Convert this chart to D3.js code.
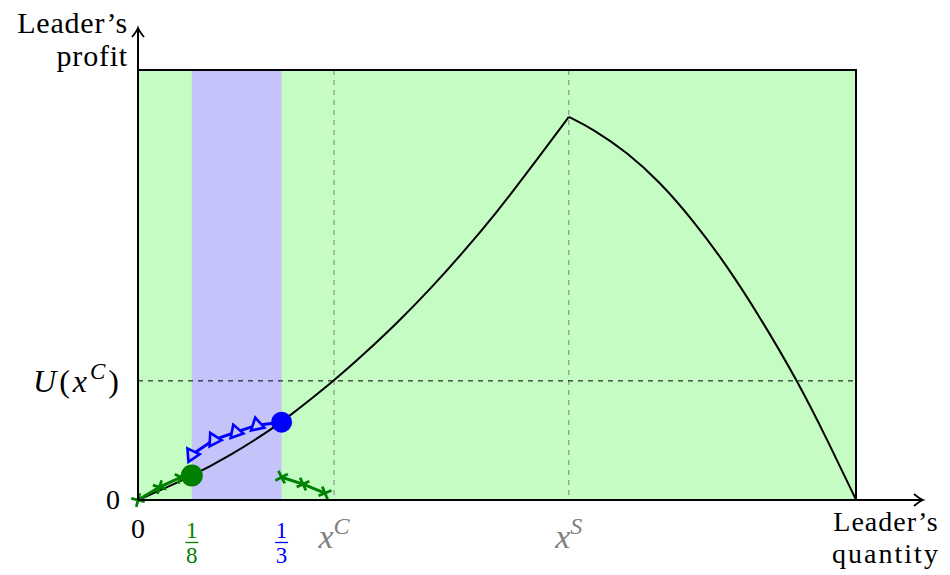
<!DOCTYPE html>
<html lang="en">
  <head>
    <meta charset="UTF-8" />
    <title>Leader's profit</title>
    <script src="https://d3js.org/d3.v7.min.js"></script>
    <style>
      body {
        margin: 0;
        background: #ffffff;
      }
      svg {
        display: block;
      }
      text {
        font-family: "Liberation Serif", "DejaVu Serif", serif;
      }
    </style>
  </head>
  <body>
    <div id="chart"></div>
    <script>
      // profit curve, left branch (up to x^S) and right branch
      const leftX = [0, 0.125, 0.2135, 0.306, 0.3333, 0.455, 0.522, 0.601, 0.677, 0.754, 0.833, 0.91, 1.0];
      const leftY = [0, 0.055, 0.103, 0.162, 0.181, 0.277, 0.337, 0.411, 0.489, 0.575, 0.669, 0.77, 0.891];
      const rightX = [1.0, 1.056, 1.135, 1.212, 1.288, 1.367, 1.444, 1.532, 1.599, 1.667];
      const rightY = [0.891, 0.863, 0.809, 0.739, 0.651, 0.545, 0.425, 0.275, 0.142, 0];

      // green path (crosses) and green dot
      const greenLeftX = [0, 0.05, 0.1];
      const greenLeftY = [0, 0.03, 0.053];
      const greenDot = [0.125, 0.057];
      const greenRightX = [0.3333, 0.383, 0.434];
      const greenRightY = [0.053, 0.037, 0.016];

      // blue path (triangles) and blue dot
      const blueX = [0.125, 0.176, 0.227, 0.276];
      const blueY = [0.105, 0.14, 0.158, 0.174];
      const blueDot = [0.3333, 0.181];

      // guides
      const xC = 0.455;
      const xS = 1.0;
      const uC = 0.277;
      const band = [1 / 8, 1 / 3];
      const xMax = 5 / 3;
      const yMax = 1;

      const W = 950, H = 575;
      const x = d3.scaleLinear().domain([0, xMax]).range([138, 856]);
      const y = d3.scaleLinear().domain([0, yMax]).range([500, 70]);

      const GREEN = "#008000";
      const BLUE = "#0000ff";
      const GRAY = "#808080";

      const svg = d3.select("#chart").append("svg").attr("width", W).attr("height", H);

      // background regions
      svg.append("rect")
        .attr("x", x(0)).attr("y", y(yMax))
        .attr("width", x(xMax) - x(0)).attr("height", y(0) - y(yMax))
        .attr("fill", "#c4fcc4");
      svg.append("rect")
        .attr("x", x(band[0])).attr("y", y(yMax))
        .attr("width", x(band[1]) - x(band[0])).attr("height", y(0) - y(yMax))
        .attr("fill", "#c4c4fb");

      // dashed guides
      [xC, xS].forEach((v) => {
        svg.append("line")
          .attr("x1", x(v)).attr("x2", x(v))
          .attr("y1", y(yMax)).attr("y2", y(0))
          .attr("stroke", GRAY).attr("stroke-width", 1)
          .attr("stroke-dasharray", "5,5");
      });
      svg.append("line")
        .attr("x1", x(0)).attr("x2", x(xMax))
        .attr("y1", y(uC)).attr("y2", y(uC))
        .attr("stroke", "#000").attr("stroke-width", 1)
        .attr("stroke-dasharray", "5,5");

      // frame (top and right)
      svg.append("path")
        .attr("d", `M${x(0)},${y(yMax)}H${x(xMax)}V${y(0)}`)
        .attr("fill", "none").attr("stroke", "#000").attr("stroke-width", 2);

      // profit curve
      const line = d3.line().x((d) => x(d[0])).y((d) => y(d[1])).curve(d3.curveBasis);
      const straight = d3.line().x((d) => x(d[0])).y((d) => y(d[1]));
      svg.append("path")
        .attr("d", line(d3.zip(leftX, leftY)))
        .attr("fill", "none").attr("stroke", "#000").attr("stroke-width", 2);
      svg.append("path")
        .attr("d", line(d3.zip(rightX, rightY)))
        .attr("fill", "none").attr("stroke", "#000").attr("stroke-width", 2);

      // marker angle along a polyline
      function angles(pts) {
        return pts.map((p, i) => {
          const a = pts[Math.max(0, i - 1)], b = pts[Math.min(pts.length - 1, i + 1)];
          return (Math.atan2(y(b[1]) - y(a[1]), x(b[0]) - x(a[0])) * 180) / Math.PI;
        });
      }

      // green paths with crosses
      function crossPath(pts, withDot) {
        const full = withDot ? pts.concat([withDot]) : pts;
        svg.append("path")
          .attr("d", straight(full))
          .attr("fill", "none").attr("stroke", GREEN).attr("stroke-width", 3);
        const ang = angles(full);
        pts.forEach((p, i) => {
          svg.append("path")
            .attr("d", "M-7,0H7M0,-7V7")
            .attr("transform", `translate(${x(p[0])},${y(p[1])}) rotate(${ang[i] + 45})`)
            .attr("stroke", GREEN).attr("stroke-width", 2.8).attr("fill", "none");
        });
      }
      crossPath(d3.zip(greenLeftX, greenLeftY), greenDot);
      crossPath(d3.zip(greenRightX, greenRightY), null);

      // blue path with triangles
      const bluePts = d3.zip(blueX, blueY).concat([blueDot]);
      svg.append("path")
        .attr("d", straight(bluePts))
        .attr("fill", "none").attr("stroke", BLUE).attr("stroke-width", 3);
      const bAng = angles(bluePts);
      const tri = d3.symbol().type(d3.symbolTriangle).size(80);
      d3.zip(blueX, blueY).forEach((p, i) => {
        svg.append("path")
          .attr("d", tri())
          .attr("transform", `translate(${x(p[0])},${y(p[1])}) rotate(${bAng[i]})`)
          .attr("fill", "#c4c4fb").attr("stroke", BLUE).attr("stroke-width", 2.6);
      });

      // dots
      svg.append("circle").attr("cx", x(greenDot[0])).attr("cy", y(greenDot[1])).attr("r", 11).attr("fill", GREEN);
      svg.append("circle").attr("cx", x(blueDot[0])).attr("cy", y(blueDot[1])).attr("r", 10.5).attr("fill", BLUE);

      // axes with arrows
      const arrow = "M-9,-6 Q-3,-1 0,0 Q-3,1 -9,6";
      svg.append("line")
        .attr("x1", x(0)).attr("x2", 922).attr("y1", y(0)).attr("y2", y(0))
        .attr("stroke", "#000").attr("stroke-width", 2);
      svg.append("path").attr("d", arrow)
        .attr("transform", `translate(923,${y(0)})`)
        .attr("fill", "none").attr("stroke", "#000").attr("stroke-width", 1.8);
      svg.append("line")
        .attr("x1", x(0)).attr("x2", x(0)).attr("y1", y(0)).attr("y2", 29)
        .attr("stroke", "#000").attr("stroke-width", 2);
      svg.append("path").attr("d", arrow)
        .attr("transform", `translate(${x(0)},28) rotate(-90)`)
        .attr("fill", "none").attr("stroke", "#000").attr("stroke-width", 1.8);

      // axis titles
      const fs = 30;
      svg.append("text").attr("x", 128).attr("y", 33).attr("text-anchor", "end")
        .attr("font-size", fs).attr("letter-spacing", 0.8).text("Leader’s");
      svg.append("text").attr("x", 128).attr("y", 66).attr("text-anchor", "end")
        .attr("font-size", fs).attr("letter-spacing", 0.8).text("profit");
      svg.append("text").attr("x", 886).attr("y", 531).attr("text-anchor", "middle")
        .attr("font-size", 28).attr("letter-spacing", 1).text("Leader’s");
      svg.append("text").attr("x", 886).attr("y", 563).attr("text-anchor", "middle")
        .attr("font-size", 28).attr("letter-spacing", 2).text("quantity");

      // y tick labels
      svg.append("text").attr("x", 120).attr("y", y(0) + 9).attr("text-anchor", "end")
        .attr("font-size", 28).text("0");
      const u = svg.append("text").attr("x", 122).attr("y", y(uC) + 11).attr("text-anchor", "end")
        .attr("font-size", 32).attr("letter-spacing", 3);
      u.append("tspan").attr("font-style", "italic").text("U");
      u.append("tspan").text("(");
      u.append("tspan").attr("font-style", "italic").text("x");
      u.append("tspan").attr("font-style", "italic").attr("font-size", 23).attr("dy", -13).text("C");
      u.append("tspan").attr("dy", 13).text(")");

      // x tick labels
      svg.append("text").attr("x", x(0)).attr("y", 538).attr("text-anchor", "middle")
        .attr("font-size", 28).text("0");
      function frac(v, num, den, col) {
        const g = svg.append("g").attr("transform", `translate(${x(v)},0)`);
        g.append("text").attr("y", 538).attr("text-anchor", "middle").attr("font-size", 23)
          .attr("fill", col).text(num);
        g.append("line").attr("x1", -6.5).attr("x2", 6.5).attr("y1", 542.5).attr("y2", 542.5)
          .attr("stroke", col).attr("stroke-width", 1.3);
        g.append("text").attr("y", 563).attr("text-anchor", "middle").attr("font-size", 23)
          .attr("fill", col).text(den);
      }
      frac(band[0], "1", "8", GREEN);
      frac(band[1], "1", "3", BLUE);
      function sup(v, s) {
        const t = svg.append("text").attr("x", x(v)).attr("y", 548).attr("text-anchor", "middle")
          .attr("font-size", 34).attr("fill", GRAY).attr("font-style", "italic");
        t.append("tspan").text("x");
        t.append("tspan").attr("font-size", 24).attr("dy", -14).text(s);
      }
      sup(xC, "C");
      sup(xS, "S");
    </script>
  </body>
</html>
